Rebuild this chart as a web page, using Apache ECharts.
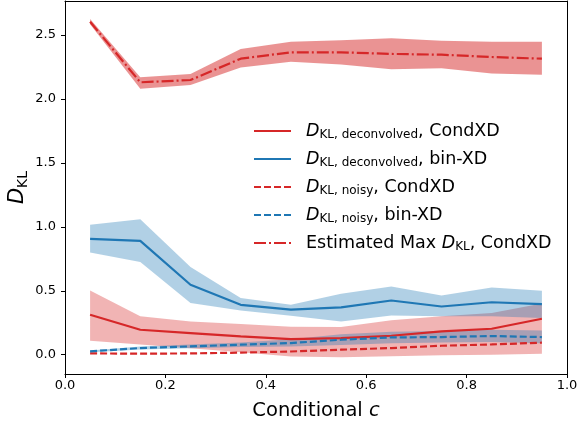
<!DOCTYPE html>
<html>
<head>
<meta charset="utf-8">
<script src="https://cdn.jsdelivr.net/npm/echarts@6/dist/echarts.min.js"></script>
<style>html,body{margin:0;padding:0;background:#fff;}#chart{width:579px;height:428px;}</style>
</head>
<body>
<div id="chart"></div>
<script>
// ---- data ----
const cValues = [0.05, 0.15, 0.25, 0.35, 0.45, 0.55, 0.65, 0.75, 0.85, 0.95];

const deconvCond   = [0.312, 0.195, 0.169, 0.143, 0.122, 0.130, 0.148, 0.182, 0.203, 0.281];
const deconvCondLo = [0.110, 0.080, 0.050, 0.020, -0.015, -0.020, -0.013, -0.005, 0.000, 0.008];
const deconvCondHi = [0.502, 0.300, 0.260, 0.240, 0.218, 0.216, 0.270, 0.300, 0.326, 0.400];

const deconvBin   = [0.906, 0.890, 0.547, 0.390, 0.352, 0.370, 0.424, 0.377, 0.410, 0.396];
const deconvBinLo = [0.800, 0.724, 0.404, 0.346, 0.305, 0.260, 0.307, 0.300, 0.300, 0.287];
const deconvBinHi = [1.016, 1.060, 0.685, 0.443, 0.390, 0.476, 0.534, 0.463, 0.526, 0.500];

const noisyCond = [0.010, 0.008, 0.010, 0.016, 0.025, 0.039, 0.052, 0.070, 0.080, 0.094];

const noisyBin   = [0.026, 0.052, 0.065, 0.078, 0.091, 0.117, 0.135, 0.138, 0.146, 0.138];
const noisyBinLo = [0.020, 0.040, 0.050, 0.060, 0.065, 0.075, 0.090, 0.095, 0.100, 0.090];
const noisyBinHi = [0.032, 0.064, 0.080, 0.095, 0.120, 0.160, 0.180, 0.185, 0.195, 0.190];

const maxCond   = [2.604, 2.130, 2.148, 2.315, 2.365, 2.365, 2.352, 2.346, 2.328, 2.315];
const maxCondLo = [2.585, 2.080, 2.110, 2.245, 2.290, 2.270, 2.232, 2.240, 2.200, 2.190];
const maxCondHi = [2.625, 2.170, 2.195, 2.390, 2.448, 2.460, 2.474, 2.455, 2.448, 2.448];

const xTicks = [0.0, 0.2, 0.4, 0.6, 0.8, 1.0];
const yTicks = [0.0, 0.5, 1.0, 1.5, 2.0, 2.5];

const seriesNames = ['deconvCond', 'deconvBin', 'noisyCond', 'noisyBin', 'maxCond'];
const legendLabels = {
  deconvCond: '{i|D}{s|KL, deconvolved}, CondXD',
  deconvBin:  '{i|D}{s|KL, deconvolved}, bin-XD',
  noisyCond:  '{i|D}{s|KL, noisy}, CondXD',
  noisyBin:   '{i|D}{s|KL, noisy}, bin-XD',
  maxCond:    'Estimated Max {i|D}{s|KL}, CondXD'
};

// ---- styling ----
const RED = '#d62728', BLUE = '#1f77b4';
const FONT = 'DejaVu Sans';

function band(lo, hi, color, z) {
  return {
    type: 'custom',
    silent: true,
    z: z,
    data: cValues.map((c, i) => [c, lo[i], hi[i]]),
    encode: { x: 0, y: [1, 2] },
    renderItem: function (params, api) {
      if (params.dataIndex !== 0) return null;
      const pts = [];
      for (let i = 0; i < cValues.length; i++) pts.push(api.coord([cValues[i], hi[i]]));
      for (let i = cValues.length - 1; i >= 0; i--) pts.push(api.coord([cValues[i], lo[i]]));
      return { type: 'polygon', shape: { points: pts }, style: { fill: color, stroke: null } };
    }
  };
}

function line(name, values, color, dash, z) {
  return {
    name: name,
    type: 'line',
    z: z,
    symbol: 'none',
    silent: true,
    data: cValues.map((c, i) => [c, values[i]]),
    lineStyle: { color: color, width: 2.2, type: dash },
    itemStyle: { color: color }
  };
}

const dashed = [7, 3];
const dashDot = [12, 3, 2, 3];

const frameAxis = {
  show: true,
  axisLine: { show: true, onZero: false, lineStyle: { color: '#000', width: 1 } },
  axisTick: { show: false }, axisLabel: { show: false }, splitLine: { show: false }
};

const chart = echarts.init(document.getElementById('chart'), null, { renderer: 'canvas' });
chart.setOption({
  animation: false,
  backgroundColor: '#fff',
  grid: { left: 65, right: 12, top: 1, bottom: 54, containLabel: false, outerBoundsMode: 'none' },
  xAxis: [{
    type: 'value', min: 0, max: 1, interval: 0.2, position: 'bottom',
    name: 'Conditional {i|c}', nameLocation: 'middle', nameGap: 27, nameMoveOverlap: false,
    nameTextStyle: { fontFamily: FONT, fontSize: 19.5, color: '#000',
      rich: { i: { fontFamily: FONT, fontSize: 19.5, fontStyle: 'italic', color: '#000' } } },
    axisLine: { show: true, onZero: false, lineStyle: { color: '#000', width: 1 } },
    axisTick: { show: true, inside: false, length: 4, lineStyle: { color: '#000', width: 1 } },
    axisLabel: { fontFamily: FONT, fontSize: 13, color: '#000', margin: 5,
      formatter: v => xTicks.some(t => Math.abs(t - v) < 1e-9) ? v.toFixed(1) : '' },
    splitLine: { show: false }
  }, Object.assign({ type: 'value', min: 0, max: 1, position: 'top' }, frameAxis)],
  yAxis: [{
    type: 'value', min: -0.151, max: 2.766, position: 'left',
    name: '{i|D}{s|KL}', nameLocation: 'middle', nameGap: 35, nameRotate: 90, nameMoveOverlap: false,
    nameTextStyle: { fontFamily: FONT, fontSize: 20, color: '#000',
      rich: {
        i: { fontFamily: FONT, fontSize: 21, fontStyle: 'italic', color: '#000', lineHeight: 24, verticalAlign: 'middle' },
        s: { fontFamily: FONT, fontSize: 14, color: '#000', lineHeight: 14, verticalAlign: 'bottom' }
      } },
    axisLine: { show: true, onZero: false, lineStyle: { color: '#000', width: 1 } },
    axisTick: { show: true, inside: false, length: 4, customValues: yTicks, lineStyle: { color: '#000', width: 1 } },
    axisLabel: { fontFamily: FONT, fontSize: 13, color: '#000', margin: 9, customValues: yTicks,
      formatter: v => v.toFixed(1) },
    splitLine: { show: false }
  }, Object.assign({ type: 'value', min: -0.151, max: 2.766, position: 'right' }, frameAxis)],
  legend: {
    orient: 'vertical', left: 248, top: 116,
    itemWidth: 37, itemHeight: 2, itemGap: 8,
    selectedMode: false,
    itemStyle: { opacity: 0 },
    data: seriesNames,
    formatter: n => legendLabels[n],
    textStyle: {
      fontFamily: FONT, fontSize: 17.5, color: '#000', lineHeight: 20, padding: [0, 0, 0, 10],
      rich: {
        i: { fontFamily: FONT, fontSize: 17.5, fontStyle: 'italic', color: '#000', lineHeight: 20, verticalAlign: 'middle' },
        s: { fontFamily: FONT, fontSize: 12, color: '#000', lineHeight: 12, verticalAlign: 'bottom' }
      }
    }
  },
  series: [
    band(maxCondLo, maxCondHi, 'rgba(214,39,40,0.5)', 1),
    band(deconvCondLo, deconvCondHi, 'rgba(214,39,40,0.35)', 1),
    band(deconvBinLo, deconvBinHi, 'rgba(31,119,180,0.35)', 1),
    band(noisyBinLo, noisyBinHi, 'rgba(31,119,180,0.35)', 1),
    line('deconvCond', deconvCond, RED, 'solid', 3),
    line('deconvBin', deconvBin, BLUE, 'solid', 3),
    line('noisyCond', noisyCond, RED, dashed, 3),
    line('noisyBin', noisyBin, BLUE, dashed, 3),
    line('maxCond', maxCond, RED, dashDot, 3)
  ]
});
</script>
</body>
</html>
